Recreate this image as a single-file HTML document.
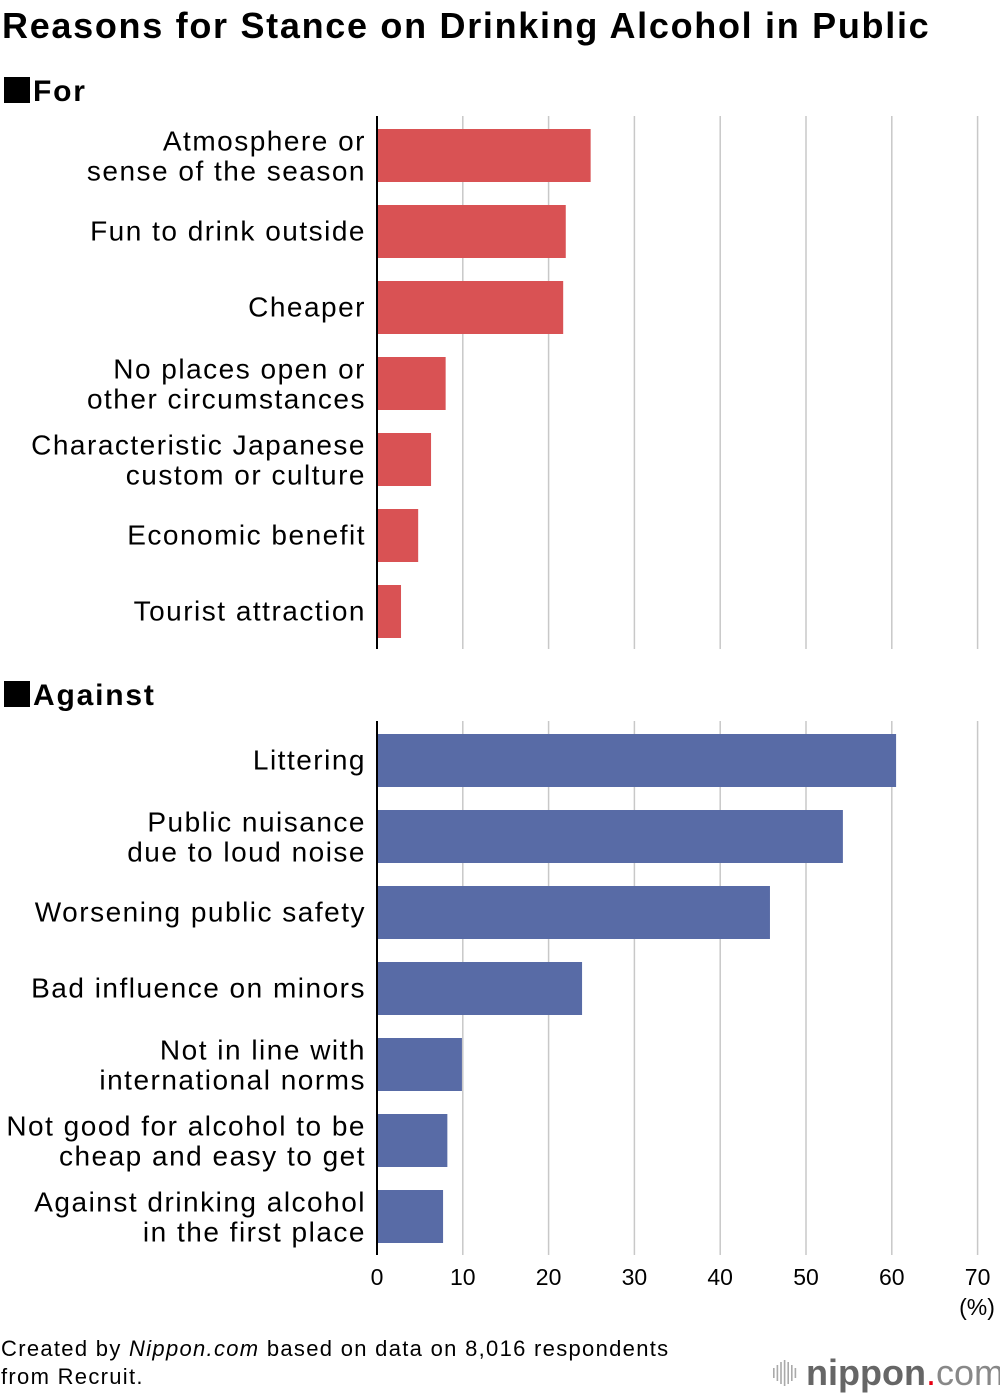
<!DOCTYPE html>
<html><head><meta charset="utf-8"><style>
body{margin:0;background:#fff;width:1000px;height:1396px;overflow:hidden;font-family:"Liberation Sans",Arial,sans-serif}
svg{display:block}
</style></head><body>
<svg id="chart" width="1000" height="1396"></svg>
<script>
const forCats=["Atmosphere or|sense of the season","Fun to drink outside","Cheaper","No places open or|other circumstances","Characteristic Japanese|custom or culture","Economic benefit","Tourist attraction"];
const forVals=[24.9,22.0,21.7,8.0,6.3,4.8,2.8];
const agCats=["Littering","Public nuisance|due to loud noise","Worsening public safety","Bad influence on minors","Not in line with|international norms","Not good for alcohol to be|cheap and easy to get","Against drinking alcohol|in the first place"];
const agVals=[60.5,54.3,45.8,23.9,9.9,8.2,7.7];
const ticks=[0,10,20,30,40,50,60,70];
const NS="http://www.w3.org/2000/svg";
const svg=document.getElementById('chart');
const x0=377,pxPer=8.58;
function xs(v){return x0+v*pxPer;}
function el(tag,attrs,text){const e=document.createElementNS(NS,tag);for(const k in attrs)e.setAttribute(k,attrs[k]);if(text!=null)e.textContent=text;svg.appendChild(e);return e;}
let t=el('text',{x:2,y:38,'font-size':36,'font-weight':'bold',fill:'#000','letter-spacing':1.7},'Reasons for Stance on Drinking Alcohol in Public');

function panel(title,titleY,cats,vals,color,top,bottom,barTop,name){
  let r=el('rect',{x:4,y:titleY-24,width:26,height:26,fill:'#000'});
  
  let h=el('text',{x:33,y:titleY,'font-size':30,'font-weight':'bold','letter-spacing':1.8},title);
  
  ticks.forEach((v,i)=>{if(i===0)return;
    let g=el('line',{x1:xs(v),x2:xs(v),y1:top,y2:bottom,stroke:'#c8c8c8','stroke-width':1.5});
    });
  cats.forEach((c,i)=>{
    const y=barTop+i*76;
    let b=el('rect',{x:x0,y:y,width:xs(vals[i])-x0,height:53,fill:color});
    
    const lines=c.split('|');
    const cy=y+26.5;
    lines.forEach((ln,j)=>{
      const ly=lines.length===1?cy+9:cy-5+j*30;
      let l=el('text',{x:366,y:ly,'font-size':28,'text-anchor':'end','letter-spacing':1.5},ln);
      
    });
  });
  let a=el('line',{x1:x0,x2:x0,y1:top,y2:bottom,stroke:'#000','stroke-width':2});
  
}
panel('For',101,forCats,forVals,'#d95254',116,649,129,'for');
panel('Against',705,agCats,agVals,'#586ba6',721,1255,734,'against');
ticks.forEach(v=>{
  let l=el('text',{x:xs(v),y:1285,'font-size':23,'text-anchor':'middle'},String(v));
  
});
let u=el('text',{x:977,y:1315,'font-size':23,'text-anchor':'middle'},'(%)');

let s1=el('text',{x:1,y:1356,'font-size':22,'letter-spacing':1.3});
s1.innerHTML='Created by <tspan font-style="italic">Nippon.com</tspan> based on data on 8,016 respondents';

let s2=el('text',{x:1,y:1384,'font-size':22,'letter-spacing':1.3},'from Recruit.');

[0,1,2,3,4,5,6].forEach(i=>{const hh=[10,16,22,26,22,16,10][i];
  let b=el('rect',{x:773+i*3.6,y:1373-hh/2,width:1.6,height:hh,fill:'#aaa'});
  });
let lg=el('text',{x:806,y:1385,'font-size':36,fill:'#666'});
lg.innerHTML='<tspan font-weight="bold">nippon</tspan><tspan fill="#e60012">.</tspan><tspan fill="#888">com</tspan>';

</script>
</body></html>
